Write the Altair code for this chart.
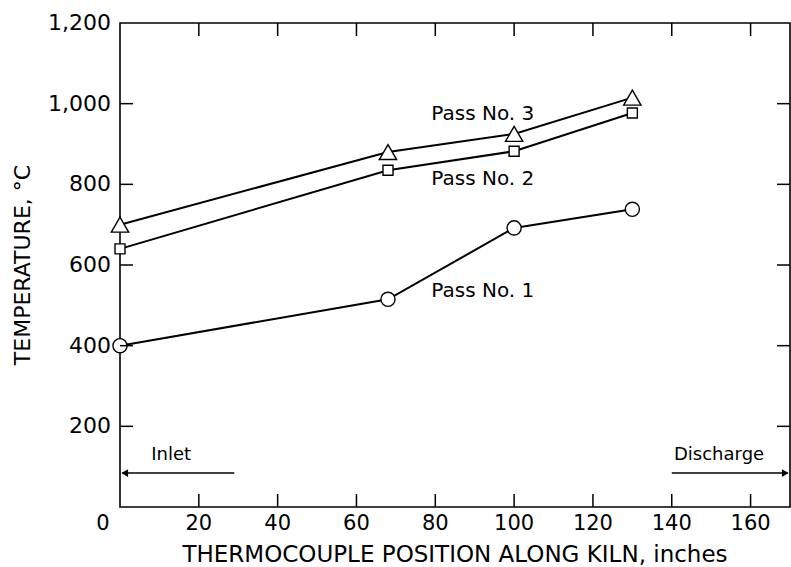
import altair as alt
import pandas as pd

# ---- data ----
x_pos = [0, 68, 100, 130]
pass1 = [400, 515, 692, 738]
pass2 = [640, 835, 882, 977]
pass3 = [700, 880, 925, 1015]
series_names = ["Pass No. 1", "Pass No. 2", "Pass No. 3"]
series_shapes = ["circle", "square", "triangle-up"]
series_sizes = [200, 100, 300]

x_ticks = [0, 20, 40, 60, 80, 100, 120, 140, 160]
x_tick_labels = ["0", "20", "40", "60", "80", "100", "120", "140", "160"]
y_ticks = [200, 400, 600, 800, 1000, 1200]
y_tick_labels = ["200", "400", "600", "800", "1,000", "1,200"]
x_domain = [0, 170]
y_domain = [0, 1200]
x_title = "THERMOCOUPLE POSITION ALONG KILN, inches"
y_title = "TEMPERATURE, °C"

label_text = ["Pass No. 3", "Pass No. 2", "Pass No. 1"]
label_x = [79, 79, 79]
label_y = [975, 813, 535]

note_text = ["Inlet", "Discharge"]
note_x = [13, 152]
note_y = [130, 130]

arrow_x1 = [0.6, 140]
arrow_x2 = [29, 169.4]
arrow_y = [84, 84]
arrow_shape = ["triangle-left", "triangle-right"]
arrow_head_x = [1.2, 168.8]

# ---- layout / style constants ----
FONT = "DejaVu Sans"
TICK_PX = 13
XLAB_Y = -42
YLAB_DX = -9
XTITLE_Y = -119
YTITLE_X = -24.5

xs = alt.Scale(domain=x_domain, nice=False, zero=False)
ys = alt.Scale(domain=y_domain, nice=False, zero=False)


def X(f):
    return alt.X(f, scale=xs, axis=None)


def Y(f):
    return alt.Y(f, scale=ys, axis=None)


layers = []

# ---- connecting lines ----
for name, vals in zip(series_names, [pass1, pass2, pass3]):
    d = pd.DataFrame({"pos": x_pos, "temp": vals})
    layers.append(alt.Chart(d).mark_line(color="black", strokeWidth=2).encode(
        x=X("pos:Q"), y=Y("temp:Q")))

# ---- hollow markers ----
for name, vals, shp, sz in zip(series_names, [pass1, pass2, pass3], series_shapes, series_sizes):
    d = pd.DataFrame({"pos": x_pos, "temp": vals})
    layers.append(alt.Chart(d).mark_point(shape=shp, size=sz, filled=True, fill="white",
                                          stroke="black", strokeWidth=1.4, opacity=1).encode(
        x=X("pos:Q"), y=Y("temp:Q")))

# ---- series labels and inlet / discharge notes ----
labels_df = pd.DataFrame({"t": label_text, "lx": label_x, "ly": label_y})
layers.append(alt.Chart(labels_df).mark_text(align="left", baseline="middle", font=FONT,
                                             fontSize=20, color="black").encode(
    x=X("lx:Q"), y=Y("ly:Q"), text="t:N"))

notes_df = pd.DataFrame({"t": note_text, "nx": note_x, "ny": note_y})
layers.append(alt.Chart(notes_df).mark_text(align="center", baseline="middle", font=FONT,
                                            fontSize=18, color="black").encode(
    x=X("nx:Q"), y=Y("ny:Q"), text="t:N"))

for x1, x2, y, shp, hx in zip(arrow_x1, arrow_x2, arrow_y, arrow_shape, arrow_head_x):
    d = pd.DataFrame({"ax1": [x1], "ax2": [x2], "ay": [y], "hx": [hx]})
    layers.append(alt.Chart(d).mark_rule(color="black", strokeWidth=1.5).encode(
        x=X("ax1:Q"), x2="ax2", y=Y("ay:Q")))
    layers.append(alt.Chart(d).mark_point(shape=shp, size=60, filled=True, color="black",
                                          opacity=1).encode(
        x=X("hx:Q"), y=Y("ay:Q")))

# ---- axis tick labels and titles (placed through the scales) ----
xl_df = pd.DataFrame({"v": x_ticks[1:], "t": x_tick_labels[1:], "yy": [XLAB_Y] * (len(x_ticks) - 1)})
layers.append(alt.Chart(xl_df).mark_text(align="center", baseline="middle", font=FONT,
                                         fontSize=21, color="black").encode(
    x=X("v:Q"), y=Y("yy:Q"), text="t:N"))
x0_df = pd.DataFrame({"v": x_ticks[:1], "t": x_tick_labels[:1], "yy": [XLAB_Y]})
layers.append(alt.Chart(x0_df).mark_text(align="center", baseline="middle", font=FONT,
                                         fontSize=21, color="black", dx=-17).encode(
    x=X("v:Q"), y=Y("yy:Q"), text="t:N"))

yl_df = pd.DataFrame({"v": y_ticks, "t": y_tick_labels, "xx": [x_domain[0]] * len(y_ticks)})
layers.append(alt.Chart(yl_df).mark_text(align="right", baseline="middle", font=FONT,
                                         fontSize=22, color="black", dx=YLAB_DX).encode(
    x=X("xx:Q"), y=Y("v:Q"), text="t:N"))

xt_df = pd.DataFrame({"t": [x_title], "xx": [sum(x_domain) / 2], "yy": [XTITLE_Y]})
layers.append(alt.Chart(xt_df).mark_text(align="center", baseline="middle", font=FONT,
                                         fontSize=23, color="black").encode(
    x=X("xx:Q"), y=Y("yy:Q"), text="t:N"))

yt_df = pd.DataFrame({"t": [y_title], "xx": [YTITLE_X], "yy": [sum(y_domain) / 2]})
layers.append(alt.Chart(yt_df).mark_text(align="center", baseline="middle", font=FONT,
                                         fontSize=22, color="black", angle=270).encode(
    x=X("xx:Q"), y=Y("yy:Q"), text="t:N"))

# ---- inward tick marks on all four sides (drawn last) ----
xt_vals = x_ticks[1:]
yt_vals = y_ticks[:-1]
half = TICK_PX / 2
for edge, off in [(y_domain[0], -half), (y_domain[1], half)]:
    d = pd.DataFrame({"tv": xt_vals, "te": [edge] * len(xt_vals)})
    layers.append(alt.Chart(d).mark_tick(orient="vertical", size=TICK_PX, thickness=1.5,
                                         color="black", opacity=1, yOffset=off).encode(
        x=X("tv:Q"), y=Y("te:Q")))
for edge, off in [(x_domain[0], half), (x_domain[1], -half)]:
    d = pd.DataFrame({"tv": yt_vals, "te": [edge] * len(yt_vals)})
    layers.append(alt.Chart(d).mark_tick(orient="horizontal", size=TICK_PX, thickness=1.5,
                                         color="black", opacity=1, xOffset=off).encode(
        y=Y("tv:Q"), x=X("te:Q")))

chart = alt.layer(*layers).properties(
    width=670, height=484,
    autosize=alt.AutoSizeParams(type="none"),
    padding={"left": 120, "top": 23, "right": 1, "bottom": 60},
    background="white",
).configure_view(stroke="black", strokeWidth=1.6)

chart.save("out.html", embed_options={"renderer": "svg", "actions": False})
